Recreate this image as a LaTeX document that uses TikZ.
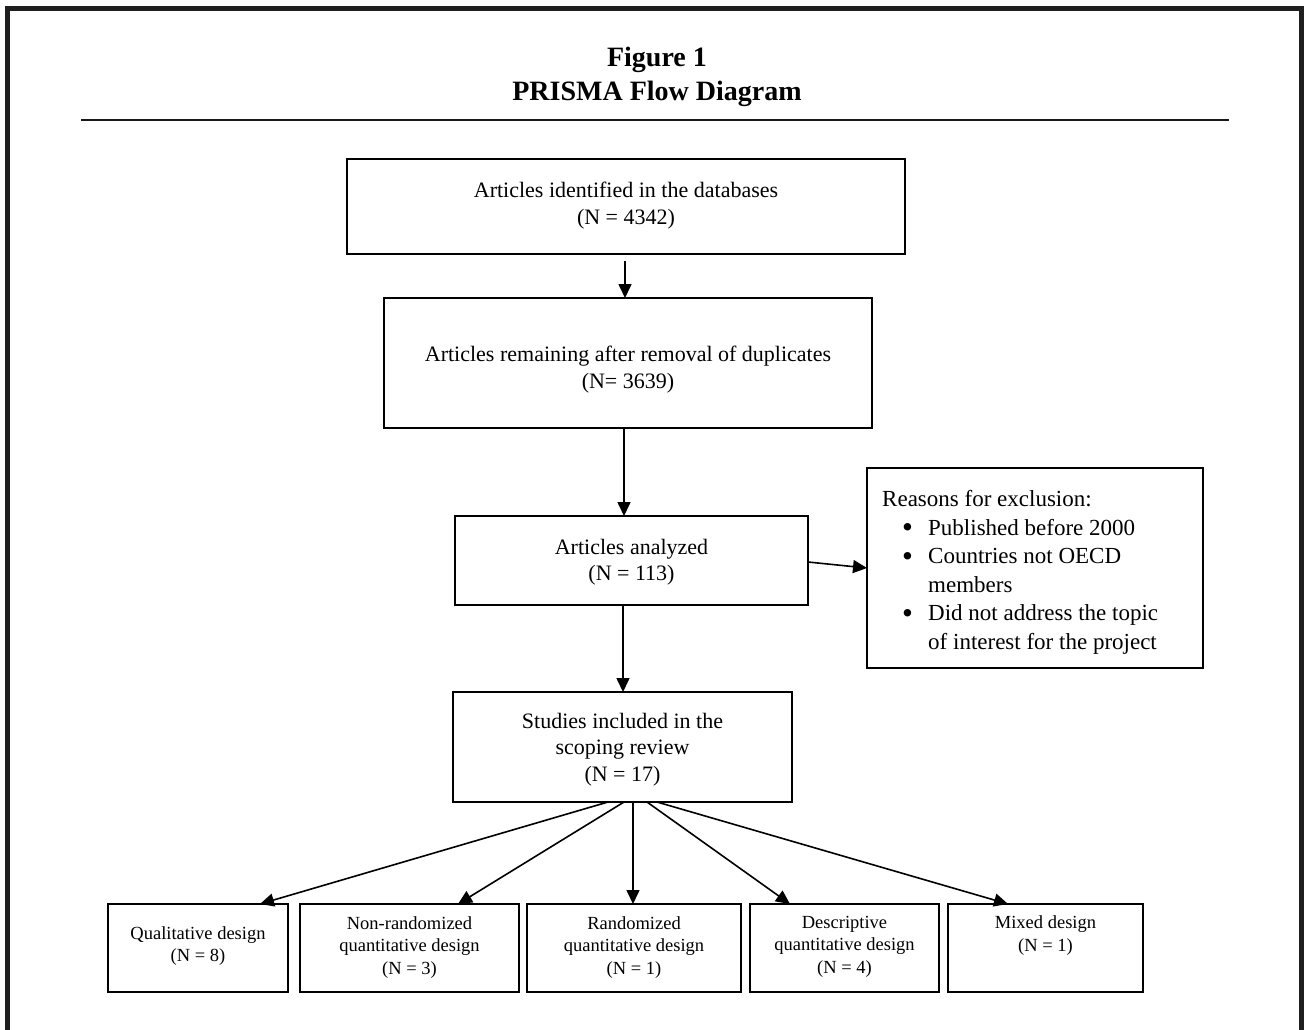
\documentclass[tikz,border=0pt]{standalone}
\usepackage{fontspec}
\setmainfont{Liberation Serif}
\usetikzlibrary{arrows.meta,calc}
\newcommand{\bigbul}{\raisebox{-2.6pt}{\scalebox{1.35}{\textbullet}}}
\begin{document}
\begin{tikzpicture}[x=1pt,y=-1pt,
  box/.style={draw, line width=1.7pt, inner sep=0pt, outer sep=0pt},
  txt/.style={align=center, inner sep=0pt, font=\fontsize{22}{26.5}\selectfont},
  stxt/.style={align=center, inner sep=0pt, font=\fontsize{18.5}{22.5}\selectfont},
  arr/.style={-{Triangle[length=14pt,width=13pt]}, line width=1.6pt},
  frame/.style={line width=4.5pt, draw=black!88},
  rule/.style={line width=2.2pt, draw=black!90}]
\useasboundingbox (0,0) rectangle (1307,1029);
% frame and title
\draw[frame] (7.5,1035) -- (7.5,8.5) -- (1301.5,8.5) -- (1301.5,1035);
\node[align=center, inner sep=0pt, font=\fontsize{28}{34}\selectfont\bfseries] (title) at (657,77) {Figure 1\\PRISMA Flow Diagram};
\coordinate (rl) at (81,120);
\coordinate (rr) at (1229,120);
\draw[rule] (rl) -- (rr);
% main boxes
\node[box, minimum width=558pt, minimum height=95pt] (b1) at (626,206.5) {};
\node[txt] (t1) at (626,205.5) {Articles identified in the databases\\(N = 4342)};
\node[box, minimum width=488pt, minimum height=130pt] (b2) at (628,363) {};
\node[txt] (t2) at (628,369.5) {Articles remaining after removal of duplicates\\(N= 3639)};
\node[box, minimum width=353pt, minimum height=89pt] (b3) at (631.5,560.5) {};
\node[txt] (t3) at (631.5,562) {Articles analyzed\\(N = 113)};
\node[box, minimum width=336pt, minimum height=200pt] (ex) at (1035,568) {};
\node[anchor=north west, align=left, inner sep=0pt, font=\fontsize{23}{28.6}\selectfont] (tex) at (882,490)
  {Reasons for exclusion:\\
   \hspace*{20pt}\makebox[26pt][l]{\bigbul}Published before 2000\\
   \hspace*{20pt}\makebox[26pt][l]{\bigbul}Countries not OECD\\
   \hspace*{46pt}members\\
   \hspace*{20pt}\makebox[26pt][l]{\bigbul}Did not address the topic\\
   \hspace*{46pt}of interest for the project};
\node[box, minimum width=339pt, minimum height=110pt] (b4) at (622.5,747) {};
\node[txt] (t4) at (622.5,749.5) {Studies included in the\\scoping review\\(N = 17)};
% bottom boxes
\node[box, minimum width=180pt, minimum height=88pt] (q) at (198,948) {};
\node[stxt] (tq) at (198,946) {Qualitative design\\(N = 8)};
\node[box, minimum width=219pt, minimum height=88pt] (nr) at (409.5,948) {};
\node[stxt] (tnr) at (409.5,947.5) {Non-randomized\\quantitative design\\(N = 3)};
\node[box, minimum width=214pt, minimum height=88pt] (r) at (634,948) {};
\node[stxt] (tr) at (634,947.5) {Randomized\\quantitative design\\(N = 1)};
\node[box, minimum width=189pt, minimum height=88pt] (d) at (844.5,948) {};
\node[stxt] (td) at (844.5,946.5) {Descriptive\\quantitative design\\(N = 4)};
\node[box, minimum width=195pt, minimum height=88pt] (m) at (1045.5,948) {};
\node[stxt] (tm) at (1045.5,935.5) {Mixed design\\(N = 1)};
% connectors
\coordinate (xa) at (625,0);
\coordinate (xb) at (624,0);
\coordinate (xc) at (623,0);
\draw[arr] ([yshift=-7pt]b1.south -| xa) -- (b2.north -| xa);
\draw[arr] (b2.south -| xb) -- (b3.north -| xb);
\draw[arr] (b3.south -| xc) -- (b4.north -| xc);
\draw[arr] ($(b3.east)+(0,1.5)$) -- (ex.west);
\draw[arr] ($(b4.south)+(-14.5,0)$) -- ($(q.north)+(62,0)$);
\draw[arr] ($(b4.south)+(1.5,0)$) -- ($(nr.north)+(48.5,0)$);
\draw[arr] ($(b4.south)+(10.5,0)$) -- ($(r.north)+(-1,0)$);
\draw[arr] ($(b4.south)+(24.5,0)$) -- ($(d.north)+(-54.5,0)$);
\draw[arr] ($(b4.south)+(34.5,0)$) -- ($(m.north)+(-37.5,0)$);
\end{tikzpicture}
\end{document}
